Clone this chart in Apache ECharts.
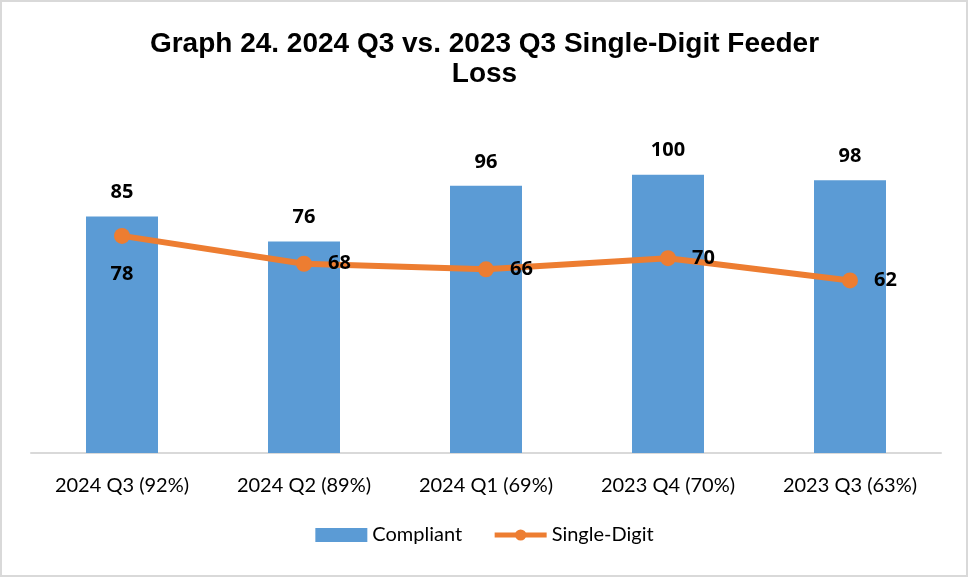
<!DOCTYPE html>
<html>
<head>
<meta charset="utf-8">
<script src="https://cdn.jsdelivr.net/npm/echarts@6/dist/echarts.min.js"></script>
<style>
  html, body { margin: 0; padding: 0; background: #fff; }
  #main { width: 969px; height: 578px; }
</style>
</head>
<body>
<div id="main"></div>
<script>
const categories = ['2024 Q3 (92%)', '2024 Q2 (89%)', '2024 Q1 (69%)', '2023 Q4 (70%)', '2023 Q3 (63%)'];
const compliant = [85, 76, 96, 100, 98];
const singleDigit = [78, 68, 66, 70, 62];
const lineLabelPos = ['bottom', 'right', 'right', 'right', 'right'];

const chart = echarts.init(document.getElementById('main'));

chart.setOption({
  animation: false,
  title: {
    text: 'Graph 24. 2024 Q3 vs. 2023 Q3 Single-Digit Feeder\nLoss',
    left: 'center',
    top: 24,
    textStyle: {
      fontFamily: 'Liberation Sans',
      fontWeight: 'bold',
      fontSize: 28,
      lineHeight: 30,
      color: '#000'
    }
  },
  graphic: [{
    type: 'rect',
    shape: { x: 1, y: 1, width: 966, height: 575 },
    style: { fill: 'none', stroke: '#d9d9d9', lineWidth: 2 },
    silent: true
  }],
  grid: {
    left: 31,
    right: 28,
    top: 119,
    bottom: 125
  },
  legend: {
    bottom: 28,
    left: 'center',
    itemGap: 30,
    itemWidth: 52,
    itemHeight: 14,
    textStyle: { fontFamily: 'Lato', fontSize: 20, color: '#000' },
    data: [
      { name: 'Compliant', icon: 'rect' },
      { name: 'Single-Digit', lineStyle: { width: 5 } }
    ]
  },
  xAxis: {
    type: 'category',
    data: categories,
    axisLine: { lineStyle: { color: '#d9d9d9', width: 2 } },
    axisTick: { show: false },
    axisLabel: {
      margin: 23,
      fontFamily: 'Lato',
      fontSize: 20,
      color: '#000'
    }
  },
  yAxis: {
    type: 'value',
    min: 0,
    max: 120,
    interval: 20,
    show: false,
    splitLine: { show: false }
  },
  series: [
    {
      name: 'Compliant',
      type: 'bar',
      data: compliant,
      barWidth: 72,
      itemStyle: { color: '#5b9bd5' },
      label: {
        show: true,
        position: 'top',
        distance: 14,
        fontFamily: 'Open Sans',
        fontWeight: 'bold',
        fontSize: 20,
        color: '#000'
      }
    },
    {
      name: 'Single-Digit',
      type: 'line',
      data: singleDigit.map((v, i) => ({
        value: v,
        label: { position: lineLabelPos[i], distance: i === 0 ? 20 : 16 }
      })),
      symbol: 'circle',
      symbolSize: 16,
      lineStyle: { color: '#ed7d31', width: 6 },
      itemStyle: { color: '#ed7d31' },
      label: {
        show: true,
        fontFamily: 'Open Sans',
        fontWeight: 'bold',
        fontSize: 20,
        color: '#000'
      }
    }
  ]
});
</script>
</body>
</html>
